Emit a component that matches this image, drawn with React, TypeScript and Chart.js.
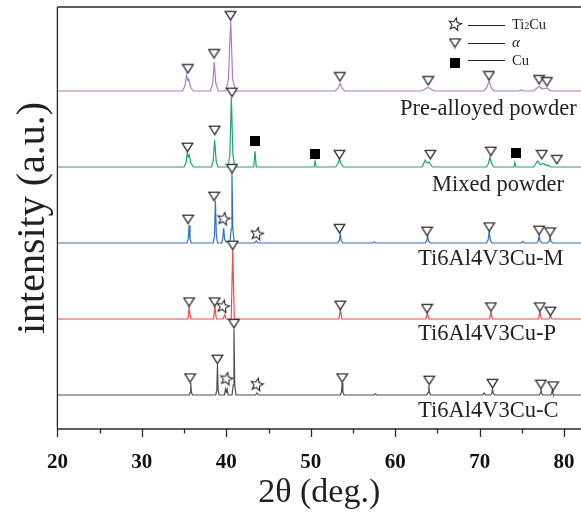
import { useEffect, useRef } from 'react';
import { Chart, registerables } from 'chart.js';

Chart.register(...registerables);

type Pt = [number, number];

// 2θ axis
const thetaMin = 20;
const thetaMax = 82;
const majorTicks = [20, 30, 40, 50, 60, 70, 80];
const minorTicks = [25, 35, 45, 55, 65, 75];

// stacked patterns, bottom to top
const sampleNames = ['Ti6Al4V3Cu-C', 'Ti6Al4V3Cu-P', 'Ti6Al4V3Cu-M', 'Mixed powder', 'Pre-alloyed powder'];
const sampleOffsets = [34, 110, 186, 262, 338];
const intensityMax = 422;

// diffraction patterns: [2θ, intensity above the pattern's own baseline]
const patternC: Pt[] = [
  [20, 0],
  [35.6, 0], [35.72, 2.5], [35.79, 12], [35.87, 2.5], [36.0, 0],
  [38.75, 0], [38.88, 5], [38.95, 30.5], [39.03, 5], [39.15, 0],
  [39.78, 0], [39.9, 6], [40.0, 3], [40.1, 6], [40.22, 0],
  [40.68, 0], [40.82, 10], [40.91, 66], [41.0, 10], [41.15, 0],
  [43.45, 0], [43.63, 2], [43.8, 0],
  [53.5, 0], [53.64, 3], [53.72, 12], [53.8, 3], [53.95, 0],
  [57.5, 0], [57.66, 1.2], [57.8, 0],
  [63.75, 0], [63.9, 2.5], [63.98, 9.5], [64.06, 2.5], [64.2, 0],
  [70.35, 0], [70.54, 2], [70.7, 0],
  [71.3, 0], [71.45, 2], [71.52, 6], [71.6, 2], [71.75, 0],
  [77.05, 0], [77.18, 2], [77.25, 6], [77.33, 2], [77.45, 0],
  [78.4, 0], [78.52, 1.5], [78.6, 4.5], [78.68, 1.5], [78.8, 0],
  [82, 0],
];

const patternP: Pt[] = [
  [20, 0],
  [35.45, 0], [35.6, 11], [35.78, 0],
  [38.48, 0], [38.65, 12], [38.82, 0],
  [39.62, 0], [39.8, 4], [39.98, 0],
  [40.58, 0], [40.76, 68.7], [40.95, 0],
  [53.33, 0], [53.5, 9], [53.68, 0],
  [63.62, 0], [63.8, 5.5], [64.0, 0],
  [71.15, 0], [71.33, 6], [71.5, 0],
  [76.95, 0], [77.13, 7], [77.3, 0],
  [78.2, 0], [78.38, 3.5], [78.55, 0],
  [82, 0],
];

const patternM: Pt[] = [
  [20, 0],
  [35.35, 0], [35.5, 4], [35.59, 17.7], [35.7, 4], [35.85, 0],
  [38.45, 0], [38.6, 8], [38.71, 42], [38.82, 8], [38.97, 0],
  [39.45, 0], [39.58, 4], [39.69, 15], [39.8, 4], [39.95, 1],
  [40.45, 2], [40.57, 14], [40.67, 70], [40.77, 14], [40.95, 0],
  [43.35, 0], [43.56, 2], [43.75, 0],
  [53.2, 0], [53.38, 2.5], [53.49, 9], [53.6, 2.5], [53.8, 0],
  [57.3, 0], [57.5, 1], [57.7, 0],
  [63.55, 0], [63.74, 2], [63.84, 7.5], [63.95, 2], [64.15, 0],
  [70.8, 0], [71.0, 3], [71.13, 11], [71.27, 3], [71.45, 0],
  [74.9, 0], [75.1, 1.5], [75.3, 0],
  [76.75, 0], [76.93, 2], [77.04, 7.5], [77.15, 2], [77.4, 0],
  [78.05, 0], [78.24, 1.8], [78.34, 6], [78.45, 1.8], [78.65, 0],
  [82, 0],
];

const patternMixed: Pt[] = [
  [20, 0],
  [35.0, 0], [35.25, 5], [35.38, 15], [35.5, 10], [35.62, 12], [35.8, 4], [36.1, 0],
  [38.25, 0], [38.45, 6], [38.62, 27], [38.8, 6], [39.0, 0],
  [40.2, 0], [40.42, 12], [40.6, 69.5], [40.78, 12], [41.0, 0],
  [43.25, 0], [43.4, 15.7], [43.55, 0],
  [50.4, 0], [50.52, 6], [50.65, 0],
  [52.95, 0], [53.2, 3], [53.4, 8], [53.6, 3], [53.85, 0],
  [63.2, 0], [63.55, 7], [63.78, 4], [64.0, 5], [64.4, 0],
  [70.8, 0], [71.05, 3.5], [71.22, 10], [71.4, 3.5], [71.65, 0],
  [74.05, 0], [74.17, 4.5], [74.3, 0],
  [76.4, 0], [76.84, 6], [77.2, 2.5], [77.55, 3.5], [77.9, 1.5], [78.1, 2], [78.4, 0],
  [82, 0],
];

const patternPre: Pt[] = [
  [20, 0],
  [34.8, 0], [35.1, 5], [35.3, 16], [35.42, 11], [35.55, 12], [35.75, 4], [36.1, 0],
  [38.1, 0], [38.4, 8], [38.58, 29], [38.75, 8], [39.05, 0],
  [39.95, 0], [40.25, 12], [40.52, 71], [40.75, 12], [41.1, 0],
  [52.9, 0], [53.25, 3], [53.48, 7.5], [53.7, 3], [54.0, 0],
  [63.1, 0], [63.6, 2.5], [63.9, 3.5], [64.3, 1.5], [64.7, 0],
  [70.5, 0], [70.85, 3.5], [71.12, 10], [71.35, 3.5], [71.7, 0],
  [74.6, 0], [74.9, 1], [75.2, 0],
  [76.4, 0], [76.8, 3], [77.04, 5], [77.4, 2], [77.96, 3], [78.4, 0],
  [82, 0],
];

// phase markers: [2θ, height above the pattern's own baseline]
const alphaC: Pt[] = [[35.71, 17], [38.95, 35.7], [40.91, 71.4], [53.72, 17], [64.02, 14.7], [71.52, 11.4], [77.25, 10.7], [78.7, 9]];
const ti2cuC: Pt[] = [[40.01, 16.4], [43.63, 10.7]];
const alphaP: Pt[] = [[35.59, 17], [38.63, 17], [40.76, 73.7], [53.49, 13.7], [63.77, 10.4], [71.34, 12], [77.13, 12], [78.38, 7.7]];
const ti2cuP: Pt[] = [[39.61, 12.7]];
const alphaM: Pt[] = [[35.47, 23.7], [38.55, 46.7], [40.67, 74.4], [53.4, 14.4], [63.77, 11.7], [71.13, 16], [77.04, 12.7], [78.34, 11]];
const ti2cuM: Pt[] = [[39.69, 24.4], [43.63, 9.4]];
const alphaMixed: Pt[] = [[35.4, 19.7], [38.63, 36.7], [40.67, 74.7], [53.4, 12.4], [64.16, 12.4], [71.33, 15.7], [77.36, 12.4], [79.14, 7.4]];
const cuMixed: Pt[] = [[43.35, 26], [50.5, 13.4], [74.29, 14]];
const alphaPre: Pt[] = [[35.45, 22.3], [38.55, 37.3], [40.5, 75.3], [53.45, 14.3], [63.9, 10.3], [71.1, 15.3], [77.04, 11.3], [77.96, 9.3]];

const patterns = [patternC, patternP, patternM, patternMixed, patternPre];
const alphaMarks = [alphaC, alphaP, alphaM, alphaMixed, alphaPre];
const ti2cuMarks = [ti2cuC, ti2cuP, ti2cuM, [], []];
const cuMarks = [[], [], [], cuMixed, []];

// styling
const lineColors = ['#4d4d4d', '#f04a4c', '#2a73c2', '#21a36c', '#b27ac6'];
const ink = '#231f20';
const serif = '"Liberation Serif", "Times New Roman", serif';
// label anchor per pattern: left edge (2θ) and drop below the baseline (a.u.)
const labelAnchors: Pt[] = [[62.7, 22], [62.7, 21], [62.7, 22], [64.36, 24], [60.57, 24]];

function makeTriangle(): HTMLCanvasElement {
  const c = document.createElement('canvas');
  c.width = 13;
  c.height = 11;
  const g = c.getContext('2d')!;
  g.beginPath();
  g.moveTo(1.2, 1.3);
  g.lineTo(11.8, 1.3);
  g.lineTo(6.5, 9.8);
  g.closePath();
  g.fillStyle = '#ffffff';
  g.fill();
  g.strokeStyle = '#2b2b2b';
  g.lineWidth = 1.3;
  g.stroke();
  return c;
}

function makeStar(): HTMLCanvasElement {
  const c = document.createElement('canvas');
  c.width = 16;
  c.height = 16;
  const g = c.getContext('2d')!;
  const cx = 8, cy = 8.4, R = 6.6, r = 2.9;
  g.beginPath();
  for (let i = 0; i < 10; i++) {
    const a = -Math.PI / 2 + 0.2 + (i * Math.PI) / 5;
    const rad = i % 2 ? r : R;
    const px = cx + rad * Math.cos(a);
    const py = cy + rad * Math.sin(a);
    if (i === 0) g.moveTo(px, py);
    else g.lineTo(px, py);
  }
  g.closePath();
  g.fillStyle = '#ffffff';
  g.fill();
  g.strokeStyle = '#2b2b2b';
  g.lineWidth = 1.1;
  g.stroke();
  return c;
}

function makeSquare(): HTMLCanvasElement {
  const c = document.createElement('canvas');
  c.width = 10;
  c.height = 10;
  const g = c.getContext('2d')!;
  g.fillStyle = '#000000';
  g.fillRect(0, 0, 10, 10);
  return c;
}

function shift(points: Pt[], offset: number) {
  return points.map(([x, y]) => ({ x, y: y + offset }));
}

export default function App() {
  const canvasRef = useRef<HTMLCanvasElement>(null);

  useEffect(() => {
    const canvas = canvasRef.current;
    if (!canvas) return;
    const tri = makeTriangle();
    const star = makeStar();
    const square = makeSquare();

    const markerSet = (marks: Pt[][], img: HTMLCanvasElement) => ({
      type: 'scatter' as const,
      data: marks.flatMap((m, i) => shift(m, sampleOffsets[i])),
      pointStyle: img,
      pointRadius: 6,
      showLine: false,
      order: 0,
    });

    const lineSets = patterns.map((p, i) => ({
      type: 'line' as const,
      label: sampleNames[i],
      data: shift(p, sampleOffsets[i]),
      borderColor: lineColors[i],
      borderWidth: 1.2,
      pointRadius: 0,
      tension: 0,
      fill: false,
      order: 1,
    }));

    const overlay = {
      id: 'xrdOverlay',
      afterDraw(chart: Chart) {
        const { ctx, chartArea: a, scales } = chart;
        const xs = scales.x;
        const ys = scales.y;
        ctx.save();
        // frame: left, bottom and top edges
        ctx.strokeStyle = '#2a2a2a';
        ctx.lineWidth = 1.3;
        ctx.beginPath();
        ctx.moveTo(a.left, a.top);
        ctx.lineTo(a.right, a.top);
        ctx.moveTo(a.left, a.top);
        ctx.lineTo(a.left, a.bottom);
        ctx.moveTo(a.left, a.bottom);
        ctx.lineTo(a.right, a.bottom);
        majorTicks.forEach((t) => {
          const px = Math.round(xs.getPixelForValue(t)) + 0.5;
          ctx.moveTo(px, a.bottom);
          ctx.lineTo(px, a.bottom + 8);
        });
        minorTicks.forEach((t) => {
          const px = Math.round(xs.getPixelForValue(t)) + 0.5;
          ctx.moveTo(px, a.bottom);
          ctx.lineTo(px, a.bottom + 4.5);
        });
        ctx.stroke();

        // pattern names
        ctx.fillStyle = ink;
        ctx.font = `22.5px ${serif}`;
        ctx.textAlign = 'left';
        ctx.textBaseline = 'alphabetic';
        sampleNames.forEach((name, i) => {
          const [lx, drop] = labelAnchors[i];
          ctx.fillText(name, xs.getPixelForValue(lx), ys.getPixelForValue(sampleOffsets[i] - drop));
        });

        // phase key
        const keyX = 455;
        const rows = [
          { img: star, y: 24, lineY: 25, textY: 29 },
          { img: tri, y: 43, lineY: 43, textY: 47 },
          { img: square, y: 63, lineY: 60, textY: 65 },
        ];
        ctx.lineWidth = 1;
        ctx.strokeStyle = '#222';
        rows.forEach((r) => {
          ctx.drawImage(r.img, keyX - r.img.width / 2, r.y - r.img.height / 2);
          ctx.beginPath();
          ctx.moveTo(468, r.lineY + 0.5);
          ctx.lineTo(505, r.lineY + 0.5);
          ctx.stroke();
        });
        ctx.font = `14.5px ${serif}`;
        ctx.fillText('Ti', 512, rows[0].textY);
        let w = ctx.measureText('Ti').width;
        ctx.font = `9.5px ${serif}`;
        ctx.fillText('2', 512 + w, rows[0].textY);
        w += ctx.measureText('2').width;
        ctx.font = `14.5px ${serif}`;
        ctx.fillText('Cu', 512 + w, rows[0].textY);
        ctx.font = `italic 15px ${serif}`;
        ctx.fillText('α', 512, rows[1].textY);
        ctx.font = `14.5px ${serif}`;
        ctx.fillText('Cu', 512, rows[2].textY);
        ctx.restore();
      },
    };

    const chart = new Chart(canvas, {
      type: 'line',
      data: {
        datasets: [
          markerSet(alphaMarks, tri),
          markerSet(ti2cuMarks as Pt[][], star),
          markerSet(cuMarks as Pt[][], square),
          ...lineSets,
        ] as any,
      },
      options: {
        animation: false,
        responsive: false,
        layout: { autoPadding: false, padding: { top: 7, left: 0, right: 0, bottom: 0 } },
        plugins: { legend: { display: false }, tooltip: { enabled: false } },
        events: [],
        scales: {
          x: {
            type: 'linear',
            min: thetaMin,
            max: thetaMax,
            position: 'bottom',
            grid: { display: false, drawTicks: false },
            border: { display: false },
            afterBuildTicks: (s: any) => {
              s.ticks = majorTicks.map((v) => ({ value: v }));
            },
            afterFit: (s: any) => {
              s.height = 86;
              s.paddingLeft = 0;
              s.paddingRight = 0;
            },
            ticks: {
              color: '#111',
              padding: 21,
              maxRotation: 0,
              font: { family: serif, size: 21, weight: 'bold' },
              callback: (v: any) => String(v),
            },
            title: {
              display: true,
              text: '2θ (deg.)',
              color: ink,
              font: { family: serif, size: 34 },
              padding: { top: 0, bottom: 2 },
            },
          },
          y: {
            type: 'linear',
            min: 0,
            max: intensityMax,
            grid: { display: false, drawTicks: false },
            border: { display: false },
            ticks: { display: false },
            afterFit: (s: any) => {
              s.width = 57.4;
              s.paddingTop = 0;
              s.paddingBottom = 0;
            },
            title: {
              display: true,
              text: 'intensity (a.u.)',
              color: ink,
              font: { family: serif, size: 40 },
              padding: { top: 9, bottom: 0 },
            },
          },
        },
      },
      plugins: [overlay],
    });

    return () => chart.destroy();
  }, []);

  return (
    <div style={{ position: 'fixed', left: 0, top: 0, width: 581, height: 515, background: '#ffffff' }}>
      <canvas ref={canvasRef} width={581} height={515} style={{ display: 'block' }} />
    </div>
  );
}
